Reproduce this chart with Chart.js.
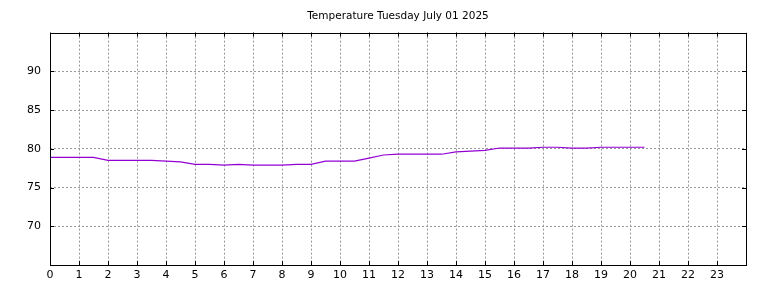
<!DOCTYPE html>
<html>
<head>
<meta charset="utf-8">
<script src="https://cdn.jsdelivr.net/npm/chart.js@4"></script>
<style>
  html, body { margin: 0; padding: 0; background: #fff; }
  #wrap { width: 768px; height: 288px; }
</style>
</head>
<body>
<div id="wrap"><canvas id="tempChart" width="768" height="288"></canvas></div>
<script>
// half-hour readings (hours since midnight)
const hours = [0, 0.5, 1, 1.5, 2, 2.5, 3, 3.5, 4, 4.5, 5, 5.5, 6, 6.5, 7, 7.5, 8, 8.5, 9, 9.5,
  10, 10.5, 11, 11.5, 12, 12.5, 13, 13.5, 14, 14.5, 15, 15.5, 16, 16.5, 17, 17.5, 18, 18.5, 19, 19.5, 20, 20.5];
const temps = [78.9, 78.9, 78.9, 78.9, 78.5, 78.5, 78.5, 78.5, 78.4, 78.3, 78.0, 78.0, 77.9, 78.0, 77.9, 77.9, 77.9, 78.0, 78.0, 78.4,
  78.4, 78.4, 78.8, 79.2, 79.3, 79.3, 79.3, 79.3, 79.6, 79.7, 79.8, 80.1, 80.1, 80.1, 80.2, 80.2, 80.1, 80.1, 80.2, 80.2, 80.2, 80.2];
const yTicks = [70, 75, 80, 85, 90];
const titleText = 'Temperature Tuesday July 01 2025';

const FONT = 'DejaVu Sans';

// box around plot + inward tick marks on all sides
const frame = {
  id: 'frame',
  afterDraw(chart) {
    const { ctx, chartArea: a, scales } = chart;
    ctx.save();
    ctx.strokeStyle = '#000';
    ctx.lineWidth = 1;
    ctx.beginPath();
    for (let h = 0; h <= 23; h++) {
      const x = Math.round(scales.x.getPixelForValue(h)) + 0.5;
      ctx.moveTo(x, a.bottom); ctx.lineTo(x, a.bottom - 4);
      ctx.moveTo(x, a.top); ctx.lineTo(x, a.top + 4);
    }
    yTicks.forEach(v => {
      const y = Math.round(scales.y.getPixelForValue(v)) + 0.5;
      ctx.moveTo(a.left, y); ctx.lineTo(a.left + 4, y);
      ctx.moveTo(a.right, y); ctx.lineTo(a.right - 4, y);
    });
    ctx.stroke();
    ctx.strokeRect(Math.round(a.left) + 0.5, Math.round(a.top) + 0.5,
      Math.round(a.right - a.left), Math.round(a.bottom - a.top));
    ctx.restore();
  }
};

new Chart(document.getElementById('tempChart'), {
  type: 'line',
  data: {
    datasets: [{
      data: hours.map((h, i) => ({ x: h, y: temps[i] })),
      borderColor: '#9400d3',
      borderWidth: 1.2,
      pointRadius: 0,
      tension: 0,
      fill: false
    }]
  },
  options: {
    responsive: false,
    animation: false,
    layout: { padding: { right: 22, top: 0, left: 0, bottom: 0 } },
    plugins: {
      legend: { display: false },
      tooltip: { enabled: false },
      title: {
        display: true,
        fullSize: false,
        text: titleText,
        color: '#000',
        font: { family: FONT, size: 10.5, weight: 'normal' },
        padding: { top: 10, bottom: 10 }
      }
    },
    scales: {
      x: {
        type: 'linear',
        min: 0,
        max: 24,
        afterFit: s => { s.height = 23; },
        afterBuildTicks: s => { s.ticks = Array.from({ length: 25 }, (_, i) => ({ value: i })); },
        ticks: {
          stepSize: 1,
          autoSkip: false,
          maxRotation: 0,
          color: '#000',
          padding: 4,
          font: { family: FONT, size: 11 },
          callback: v => (v >= 24 ? '' : String(v))
        },
        grid: { color: '#999', drawTicks: false, tickLength: 0 },
        border: { display: false, dash: [2, 2] }
      },
      y: {
        min: 65,
        max: 95,
        afterFit: s => { s.width = 50; },
        afterBuildTicks: s => { s.ticks = yTicks.map(v => ({ value: v })); },
        ticks: {
          color: '#000',
          padding: 9,
          font: { family: FONT, size: 11 }
        },
        grid: { color: '#999', drawTicks: false, tickLength: 0 },
        border: { display: false, dash: [2, 2] }
      }
    }
  },
  plugins: [frame]
});
</script>
</body>
</html>
